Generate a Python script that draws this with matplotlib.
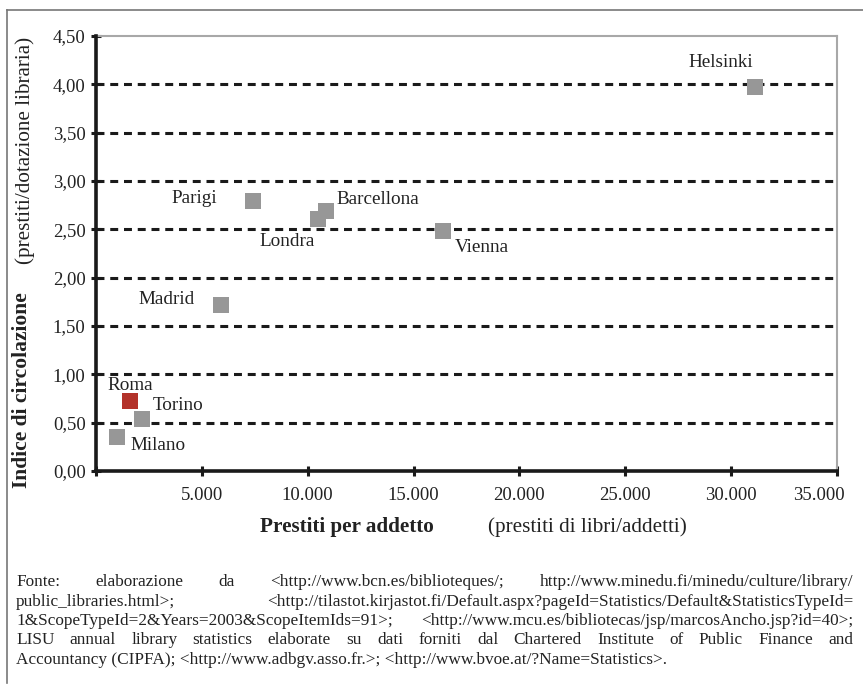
import matplotlib
matplotlib.use('Agg')
import matplotlib.pyplot as plt
from matplotlib.lines import Line2D
from matplotlib.ticker import FuncFormatter
import matplotlib.transforms as mtransforms

plt.rcParams['font.family'] = ['Liberation Serif', 'DejaVu Serif']

# data
cities = ['Helsinki', 'Vienna', 'Parigi', 'Barcellona', 'Londra', 'Madrid', 'Torino', 'Milano']
prestiti = [31150, 16400, 7420, 10880, 10500, 5900, 2180, 990]
indice = [3.97, 2.48, 2.79, 2.69, 2.61, 1.72, 0.54, 0.35]
roma_x = [1610]
roma_y = [0.72]

x_ticks = [0, 5000, 10000, 15000, 20000, 25000, 30000, 35000]
y_ticks = [0, 0.5, 1, 1.5, 2, 2.5, 3, 3.5, 4, 4.5]

# label placement (pixel offsets from point) and alignment
lab_style = {
    'Helsinki': (-35, 25, 'center'),
    'Vienna': (12, -16, 'left'),
    'Parigi': (-36, 3, 'right'),
    'Barcellona': (10, 11, 'left'),
    'Londra': (-31, -23, 'center'),
    'Madrid': (-26, 5, 'right'),
    'Torino': (11, 13, 'left'),
    'Milano': (14, -8, 'left'),
}

fonte = [
    "Fonte: elaborazione da <http://www.bcn.es/biblioteques/; http://www.minedu.fi/minedu/culture/library/",
    "public_libraries.html>; <http://tilastot.kirjastot.fi/Default.aspx?pageId=Statistics/Default&StatisticsTypeId=",
    "1&ScopeTypeId=2&Years=2003&ScopeItemIds=91>; <http://www.mcu.es/bibliotecas/jsp/marcosAncho.jsp?id=40>;",
    "LISU annual library statistics elaborate su dati forniti dal Chartered Institute of Public Finance and",
    "Accountancy (CIPFA); <http://www.adbgv.asso.fr.>; <http://www.bvoe.at/?Name=Statistics>.",
]

W, H = 863, 686
fig = plt.figure(figsize=(W / 100, H / 100), dpi=100, facecolor='white')
ax = fig.add_axes([96 / W, 1 - 471 / H, (837 - 96) / W, (471 - 36) / H])

# gridlines
for y in y_ticks[1:-1]:
    ax.axhline(y, color='#1a1a1a', linewidth=2.2, linestyle=(0, (2.6, 1.9)), zorder=1)

ax.plot(prestiti, indice, linestyle='none', marker='s', markersize=11.5,
        color='#979797', markeredgewidth=0, zorder=3)
ax.plot(roma_x, roma_y, linestyle='none', marker='s', markersize=11.5,
        color='#b3322a', markeredgewidth=0, zorder=4)

for name, xv, yv in zip(cities, prestiti, indice):
    dx, dy, ha = lab_style[name]
    ax.annotate(name, (xv, yv), xytext=(dx * 0.72, dy * 0.72), textcoords='offset points',
                ha=ha, va='center', fontsize=13.8, color='#222222')
ax.annotate('Roma', (roma_x[0], roma_y[0]), xytext=(0, 16 * 0.72), textcoords='offset points',
            ha='center', va='center', fontsize=13.8, color='#222222')

ax.set_xlim(0, 35000)
ax.set_ylim(0, 4.5)
ax.set_xticks(x_ticks)
ax.set_yticks(y_ticks)
ax.xaxis.set_major_formatter(FuncFormatter(lambda v, p: '' if v == 0 else f'{int(v):,}'.replace(',', '.')))
ax.yaxis.set_major_formatter(FuncFormatter(lambda v, p: f'{v:.2f}'.replace('.', ',')))
ax.tick_params(axis='both', direction='inout', length=7, width=2.2, color='#1a1a1a',
               labelsize=13.5, labelcolor='#222222')
ax.tick_params(axis='y', pad=4)
ax.tick_params(axis='x', pad=8)

for s in ['left', 'bottom']:
    ax.spines[s].set_linewidth(2.6)
    ax.spines[s].set_color('#1a1a1a')
    ax.spines[s].set_zorder(5)
for s in ['top', 'right']:
    ax.spines[s].set_linewidth(1.5)
    ax.spines[s].set_color('#a8a8a8')

# shift last x label left like the original
last = ax.get_xticklabels()[-1]
last.set_transform(last.get_transform() + mtransforms.ScaledTranslation(-0.18, 0, fig.dpi_scale_trans))

# axis titles
fig.text(22 / W, 1 - 390 / H, 'Indice di circolazione', rotation=90, ha='center', va='center',
         fontsize=15.5, fontweight='bold', color='#222222')
fig.text(25 / W, 1 - 150 / H, '(prestiti/dotazione libraria)', rotation=90, ha='center', va='center',
         fontsize=15.2, color='#222222')
fig.text(260 / W, 1 - 527 / H, 'Prestiti per addetto', ha='left', va='center',
         fontsize=15.2, fontweight='bold', color='#222222')
fig.text(488 / W, 1 - 527 / H, '(prestiti di libri/addetti)', ha='left', va='center',
         fontsize=15.2, color='#222222')

# frame around the figure (top and left only)
fig.add_artist(Line2D([7 / W, 1], [1 - 10 / H, 1 - 10 / H], color='#777777', linewidth=1.2))
fig.add_artist(Line2D([7 / W, 7 / W], [1 - 10 / H, 1 - 683 / H], color='#777777', linewidth=1.2))

# justified source note
fig.canvas.draw()
renderer = fig.canvas.get_renderer()
x_left, x_right = 16, 853
line_y = [582, 601.5, 621, 640.5, 660]
fs_note = 12.4
for i, (line, ypx) in enumerate(zip(fonte, line_y)):
    yf = 1 - ypx / H
    if i == len(fonte) - 1:
        fig.text(x_left / W, yf, line, ha='left', va='center', fontsize=fs_note, color='#222222')
        continue
    words = line.split(' ')
    texts = [fig.text(0, yf, w_, ha='left', va='center', fontsize=fs_note, color='#222222') for w_ in words]
    widths = [t.get_window_extent(renderer).width for t in texts]
    gap = (x_right - x_left - sum(widths)) / max(len(words) - 1, 1)
    xpos = x_left
    for t, wd in zip(texts, widths):
        t.set_x(xpos / W)
        xpos += wd + gap

fig.savefig('out.png', dpi=100, facecolor='white')
